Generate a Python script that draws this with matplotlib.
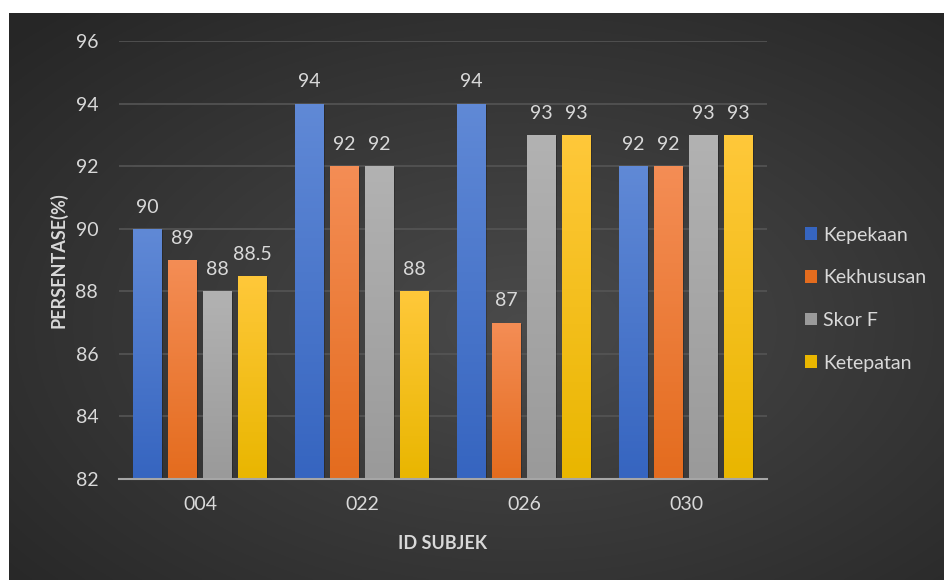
import numpy as np
import matplotlib
matplotlib.use("Agg")
import matplotlib.pyplot as plt
from matplotlib.colors import LinearSegmentedColormap, to_rgb

plt.rcParams['font.family'] = ['Lato', 'DejaVu Sans']

categories = ["004", "022", "026", "030"]
series_names = ["Kepekaan", "Kekhususan", "Skor F", "Ketepatan"]
kepekaan = [90, 94, 94, 92]
kekhususan = [89, 92, 87, 92]
skor_f = [88, 92, 93, 93]
ketepatan = [88.5, 88, 93, 93]
series_values = [kepekaan, kekhususan, skor_f, ketepatan]
y_ticks = [82, 84, 86, 88, 90, 92, 94, 96]

# (top colour, bottom colour) for each series gradient
colors = [("#6089d6", "#3665c0"),
          ("#f48d55", "#e46c1e"),
          ("#b2b2b2", "#9a9a9a"),
          ("#ffc83a", "#e9b600")]
text_color = "#d9d9d9"

fig = plt.figure(figsize=(9.44, 5.8), dpi=100)

# dark panel with a soft radial glow
bg = fig.add_axes([9/944, 0, 935/944, 567/580])
bg.set_axis_off()
yy, xx = np.mgrid[0:1:300j, 0:1:500j]
r = np.sqrt(((xx - 0.55) / 0.75) ** 2 + ((yy - 0.45) / 0.75) ** 2)
glow = np.clip(1 - r, 0, 1)
shade = 0.15 + 0.14 * glow
bg.imshow(np.dstack([shade, shade, shade]), extent=[0, 1, 0, 1], aspect='auto', origin='lower')
bg.set_xlim(0, 1)
bg.set_ylim(0, 1)

ax = fig.add_axes([119/944, 101/580, 648/944, 438/580])
ax.patch.set_alpha(0)
ax.set_xlim(-0.5, len(categories) - 0.5)
ax.set_ylim(82, 96)

step = 0.216
width = 0.179
x = np.arange(len(categories))
handles = []
for i, (name, vals, (ctop, cbot)) in enumerate(zip(series_names, series_values, colors)):
    pos = x + (i - 1.5) * step
    bars = ax.bar(pos, [v - 82 for v in vals], width, bottom=82, color=cbot,
                  label=name, zorder=3, linewidth=0)
    handles.append(bars)
    cmap = LinearSegmentedColormap.from_list(name, [to_rgb(cbot), to_rgb(ctop)])
    for b, v in zip(bars, vals):
        # soft shadow
        ax.add_patch(plt.Rectangle((b.get_x() + 0.008, 82), width, v - 82 - 0.05,
                                   color="black", alpha=0.22, zorder=2, linewidth=0))
        im = ax.imshow(np.linspace(0, 1, 100).reshape(-1, 1), cmap=cmap,
                       extent=[b.get_x(), b.get_x() + width, 82, v], origin='lower',
                       aspect='auto', zorder=4)
        im.set_clip_path(b)
        ax.text(b.get_x() + width / 2, v + 0.42, f"{v:g}", ha='center', va='bottom',
                color=text_color, fontsize=14, zorder=5)

ax.set_yticks(y_ticks)
ax.yaxis.grid(True, color="#555555", linewidth=1.2, zorder=0)
ax.set_axisbelow(True)
ax.set_xticks(x)
ax.set_xticklabels(categories)
ax.tick_params(axis='both', length=0, colors=text_color, labelsize=14)
ax.tick_params(axis='y', pad=15)
ax.tick_params(axis='x', pad=12)
for side in ["top", "right", "left"]:
    ax.spines[side].set_visible(False)
ax.spines["bottom"].set_color("#a6a6a6")
ax.spines["bottom"].set_linewidth(1.5)
ax.spines["bottom"].set_zorder(6)

ax.set_ylabel("PERSENTASE(%)", color=text_color, fontsize=13, fontweight='bold', labelpad=6)
ax.set_xlabel("ID SUBJEK", color=text_color, fontsize=13, fontweight='bold', labelpad=16)

leg = fig.legend(handles=handles, labels=series_names, loc='center left',
                 bbox_to_anchor=(787/944, 1 - 299/580), frameon=False,
                 fontsize=14, labelcolor=text_color, handlelength=0.65,
                 handleheight=0.65, handletextpad=0.3, labelspacing=1.32)

fig.savefig("out.png", dpi=100, facecolor="white")
